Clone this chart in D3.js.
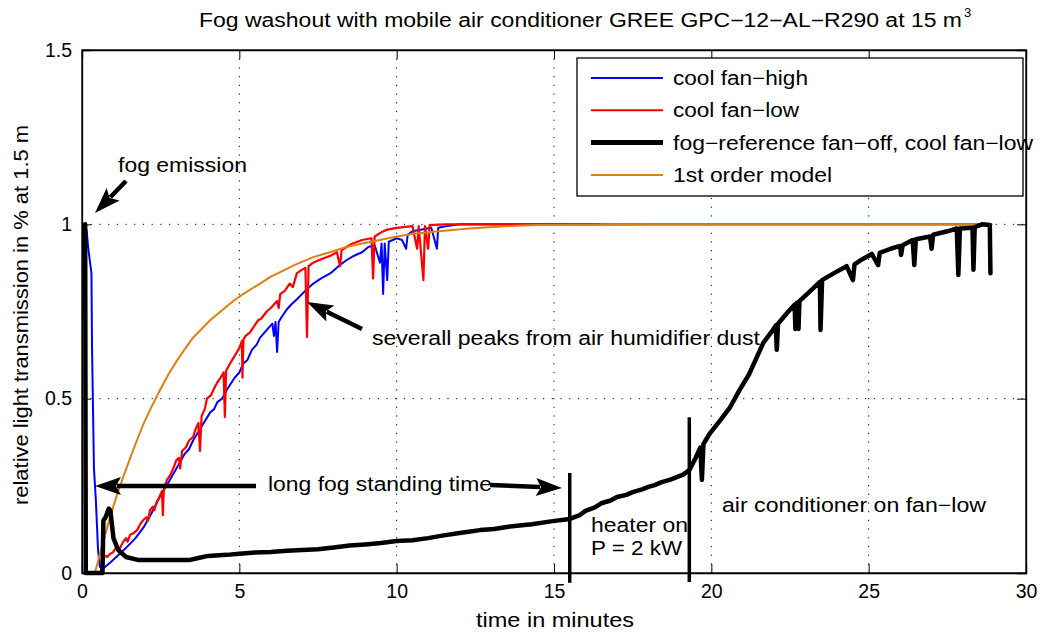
<!DOCTYPE html>
<html><head><meta charset="utf-8">
<script src="https://cdn.jsdelivr.net/npm/d3@7"></script>
<style>
body{margin:0;background:#fff;}
text{font-family:"Liberation Sans",Arial,sans-serif;fill:#000;}
</style></head>
<body><svg id="c" width="1046" height="633"></svg>
<script>
// ---------- data ----------
const xTicks = [0,5,10,15,20,25,30];
const yTicks = [0,0.5,1,1.5];
const yTickLabels = ["0","0.5","1","1.5"];
const seriesNames = ["cool fan\u2212high","cool fan\u2212low","fog\u2212reference fan\u2212off, cool fan\u2212low","1st order model"];
const seriesColors = ["#0000ff","#ff0000","#000000","#e07f10"];

const coolHigh = [[0.1,1.0],[0.15,0.98],[0.2,0.93],[0.3,0.86],[0.32,0.64],[0.38,0.3],[0.44,0.21],[0.51,0.066],[0.57,0.017],[0.7,0.015],[0.9,0.03],[1.2,0.055],[1.43,0.075],[1.7,0.1],[1.95,0.13],[2.2,0.17],[2.48,0.22],[2.75,0.26],[3.0,0.30],[3.25,0.34],[3.4,0.355],[3.53,0.38],[3.8,0.42],[4.07,0.46],[4.2,0.47],[4.3,0.49],[4.45,0.50],[4.6,0.525],[4.85,0.56],[5.0,0.575],[5.12,0.6],[5.25,0.61],[5.4,0.64],[5.55,0.655],[5.66,0.675],[5.9,0.70],[6.05,0.715],[6.1,0.68],[6.15,0.72],[6.2,0.634],[6.25,0.72],[6.35,0.735],[6.5,0.755],[6.65,0.77],[6.83,0.785],[7.1,0.81],[7.35,0.83],[7.6,0.845],[7.9,0.86],[8.15,0.88],[8.4,0.897],[8.65,0.91],[8.9,0.92],[9.1,0.935],[9.3,0.94],[9.47,0.89],[9.52,0.945],[9.57,0.80],[9.62,0.945],[9.7,0.84],[9.75,0.95],[10.0,0.96],[10.17,0.955],[10.3,0.93],[10.35,0.97],[10.5,0.98],[10.8,0.985],[11.1,0.99],[11.28,0.93],[11.32,0.99],[11.6,0.995],[12.0,1.0],[16.45,1.0]];

const coolLow = [[0.1,1.0],[0.12,0.0],[0.6,0.0],[0.65,0.03],[0.72,0.05],[0.8,0.046],[0.9,0.055],[0.99,0.06],[1.1,0.075],[1.2,0.07],[1.31,0.09],[1.4,0.1],[1.45,0.09],[1.53,0.11],[1.65,0.115],[1.75,0.123],[1.85,0.14],[1.95,0.152],[2.05,0.16],[2.1,0.15],[2.16,0.18],[2.25,0.19],[2.3,0.18],[2.38,0.205],[2.45,0.215],[2.54,0.235],[2.57,0.166],[2.6,0.24],[2.7,0.267],[2.8,0.28],[2.9,0.3],[3.0,0.324],[3.08,0.33],[3.12,0.3],[3.18,0.35],[3.3,0.36],[3.4,0.38],[3.53,0.39],[3.6,0.41],[3.7,0.43],[3.75,0.35],[3.8,0.45],[3.9,0.47],[3.97,0.5],[4.1,0.51],[4.2,0.53],[4.29,0.545],[4.4,0.56],[4.5,0.575],[4.54,0.447],[4.58,0.58],[4.7,0.6],[4.8,0.615],[4.9,0.63],[5.0,0.645],[5.08,0.665],[5.1,0.56],[5.13,0.67],[5.2,0.68],[5.34,0.69],[5.45,0.705],[5.6,0.725],[5.7,0.73],[5.87,0.75],[6.0,0.76],[6.2,0.78],[6.25,0.76],[6.3,0.8],[6.45,0.81],[6.6,0.83],[6.7,0.82],[6.83,0.86],[7.0,0.87],[7.1,0.875],[7.15,0.677],[7.2,0.88],[7.35,0.89],[7.6,0.9],[7.9,0.91],[8.1,0.92],[8.2,0.88],[8.25,0.925],[8.4,0.935],[8.6,0.945],[8.9,0.955],[9.2,0.96],[9.25,0.845],[9.3,0.965],[9.47,0.975],[9.7,0.985],[10.0,0.99],[10.5,0.995],[10.65,0.93],[10.7,0.995],[10.85,0.84],[10.9,0.995],[11.0,0.93],[11.05,0.998],[11.5,1.0],[28.9,1.0]];

const fogRef = [[0.1,1.0],[0.12,0.0],[0.65,0.0],[0.68,0.15],[0.75,0.16],[0.85,0.185],[0.9,0.18],[1.0,0.1],[1.15,0.066],[1.4,0.046],[1.8,0.037],[3.4,0.037],[3.7,0.043],[4.0,0.049],[4.6,0.052],[5.0,0.055],[5.5,0.059],[6.0,0.06],[6.5,0.064],[7.0,0.066],[7.5,0.068],[8.0,0.073],[8.5,0.079],[9.0,0.082],[9.5,0.086],[10.0,0.092],[10.5,0.094],[11.0,0.1],[11.5,0.108],[12.0,0.115],[12.65,0.123],[13.1,0.126],[13.5,0.132],[13.9,0.136],[14.3,0.14],[14.9,0.148],[15.5,0.155],[15.8,0.165],[16.0,0.178],[16.3,0.188],[16.5,0.2],[16.8,0.208],[17.0,0.218],[17.3,0.224],[17.5,0.232],[17.8,0.24],[18.0,0.247],[18.2,0.252],[18.4,0.26],[18.7,0.268],[18.9,0.275],[19.1,0.282],[19.3,0.295],[19.5,0.33],[19.65,0.36],[19.7,0.267],[19.75,0.37],[19.95,0.4],[20.3,0.44],[20.6,0.476],[20.9,0.525],[21.2,0.57],[21.45,0.62],[21.65,0.66],[21.9,0.69],[22.05,0.71],[22.08,0.64],[22.12,0.715],[22.4,0.745],[22.65,0.77],[22.67,0.70],[22.72,0.775],[22.77,0.70],[22.8,0.78],[23.1,0.805],[23.45,0.835],[23.47,0.697],[23.52,0.84],[23.9,0.86],[24.3,0.88],[24.5,0.84],[24.55,0.885],[24.8,0.9],[25.1,0.915],[25.3,0.883],[25.35,0.918],[25.7,0.93],[26.0,0.938],[26.03,0.912],[26.08,0.94],[26.4,0.955],[26.45,0.883],[26.5,0.957],[26.95,0.965],[27.0,0.93],[27.05,0.97],[27.5,0.98],[27.8,0.988],[27.85,0.855],[27.9,0.988],[28.3,0.99],[28.33,0.87],[28.37,0.992],[28.6,1.0],[28.85,0.998],[28.87,0.86]];

const model = [[0.41,0],[0.6,0.065],[0.89,0.16],[1.15,0.235],[1.43,0.305],[1.7,0.37],[1.94,0.425],[2.2,0.475],[2.48,0.525],[2.75,0.57],[3.0,0.607],[3.25,0.64],[3.53,0.675],[3.8,0.70],[4.07,0.725],[4.35,0.746],[4.6,0.765],[4.85,0.783],[5.12,0.80],[5.4,0.816],[5.66,0.83],[6.0,0.85],[6.3,0.863],[6.8,0.885],[7.35,0.906],[7.88,0.92],[8.4,0.935],[8.9,0.945],[9.47,0.955],[10.0,0.965],[10.5,0.972],[11.0,0.977],[11.6,0.982],[12.3,0.988],[13.06,0.992],[13.8,0.996],[14.46,0.998],[16.0,0.999],[18.0,1.0],[28.9,1.0]];

// annotation markers (data units)
const eventLines = [[15.5,-0.028,0.287],[19.3,-0.026,0.447]];

// ---------- chart ----------
const svg = d3.select("#c");
const L=82,R=1026,T=50,B=573;
const x = d3.scaleLinear().domain([0,30]).range([L,R]);
const y = d3.scaleLinear().domain([0,1.5]).range([B,T]);

// grid
const g = svg.append("g");
xTicks.slice(1,-1).forEach(t=>{
  g.append("line").attr("x1",x(t)).attr("x2",x(t)).attr("y1",T).attr("y2",B)
   .attr("stroke","#000").attr("stroke-width",1).attr("stroke-dasharray","1.2,7.5");
});
yTicks.slice(1,-1).forEach(t=>{
  g.append("line").attr("x1",L).attr("x2",R).attr("y1",y(t)).attr("y2",y(t))
   .attr("stroke","#000").attr("stroke-width",1).attr("stroke-dasharray","1.2,7.5");
});

// axes
const xAxis = svg.append("g").attr("transform",`translate(0,${B})`)
  .call(d3.axisBottom(x).tickValues(xTicks).tickSize(-9).tickPadding(11).tickFormat(d3.format("d")));
const xAxisTop = svg.append("g").attr("transform",`translate(0,${T})`)
  .call(d3.axisTop(x).tickValues(xTicks).tickSize(-9).tickFormat(""));
const yAxis = svg.append("g").attr("transform",`translate(${L},0)`)
  .call(d3.axisLeft(y).tickValues(yTicks).tickSize(-9).tickPadding(10).tickFormat((d,i)=>yTickLabels[i]));
const yAxisR = svg.append("g").attr("transform",`translate(${R},0)`)
  .call(d3.axisRight(y).tickValues(yTicks).tickSize(-9).tickFormat(""));
[xAxis,xAxisTop,yAxis,yAxisR].forEach(a=>{
  a.select(".domain").attr("stroke","#000").attr("stroke-width",1.3);
  a.selectAll(".tick line").attr("stroke","#000").attr("stroke-width",1);
  a.selectAll("text").style("font-family","Liberation Sans, Arial, sans-serif").style("font-size","19.5px").attr("fill","#000");
});
xAxis.selectAll(".tick text").attr("dy","0.71em");
svg.append("rect").attr("x",L).attr("y",T).attr("width",R-L).attr("height",B-T)
  .attr("fill","none").attr("stroke","#000").attr("stroke-width",1.3);

// lines
const line = d3.line().x(d=>x(d[0])).y(d=>y(d[1]));
const drawOrder = [[coolHigh,0,2],[coolLow,1,2.2],[model,3,2],[fogRef,2,4.5]];
drawOrder.forEach(([data,ci,w])=>{
  svg.append("path").datum(data).attr("d",line).attr("fill","none")
    .attr("stroke",seriesColors[ci]).attr("stroke-width",w)
    .attr("stroke-linejoin","round").attr("stroke-linecap","round");
});

// event lines
eventLines.forEach(([t,a,b])=>{
  svg.append("line").attr("x1",x(t)).attr("x2",x(t)).attr("y1",y(a)).attr("y2",y(b))
    .attr("stroke","#000").attr("stroke-width",3.5);
});

// arrows (pixel annotations)
function arrow(x1,y1,x2,y2){
  const ang=Math.atan2(y2-y1,x2-x1), len=26, hw=9;
  const bx=x2-len*Math.cos(ang), by=y2-len*Math.sin(ang);
  svg.append("line").attr("x1",x1).attr("y1",y1).attr("x2",bx+4*Math.cos(ang)).attr("y2",by+4*Math.sin(ang))
    .attr("stroke","#000").attr("stroke-width",4.5);
  const p=[[x2,y2],[bx-hw*Math.sin(ang),by+hw*Math.cos(ang)],[bx+5*Math.cos(ang),by+5*Math.sin(ang)],[bx+hw*Math.sin(ang),by-hw*Math.cos(ang)]];
  svg.append("polygon").attr("points",p.map(q=>q.join(",")).join(" ")).attr("fill","#000");
}
arrow(126,181,95,213);
arrow(256,486,95,486);
arrow(490,485,562,488);
arrow(362,329,307,302);

// text helper: fixed width (reference text is horizontally wide)
function txt(s,tx,ty,size,w,anchor){
  const t=svg.append("text").attr("x",tx).attr("y",ty).style("font-size",size+"px").text(s);
  if(w) t.attr("textLength",w).attr("lengthAdjust","spacingAndGlyphs");
  if(anchor) t.attr("text-anchor",anchor);
  return t;
}

// annotation text
txt("fog emission",118,172,20,129);
txt("severall peaks from air humidifier dust",372,345,20,388);
txt("long fog standing time",268,491,20,224);
txt("heater on",591,532,20,97);
txt("P = 2 kW",591,555,20,91);
txt("air conditioner on fan\u2212low",722,512,20,264);

// title
txt("Fog washout with mobile air conditioner GREE GPC\u221212\u2212AL\u2212R290 at 15 m",199,27,19.5,763);
txt("3",964,17,13,null);

// axis labels
txt("time in minutes",476,627,19.5,158);
svg.append("text").attr("transform",`translate(28,${315}) rotate(-90)`).attr("text-anchor","middle")
  .style("font-size","19.5px").attr("textLength",380).attr("lengthAdjust","spacingAndGlyphs")
  .text("relative light transmission in % at 1.5 m");

// legend
const lg = svg.append("g");
lg.append("rect").attr("x",577).attr("y",58).attr("width",446).attr("height",138).attr("fill","#fff").attr("stroke","#000").attr("stroke-width",1.3);
const legW=[2,2,5,2];
const legTW=[135,126,360,159];
seriesNames.forEach((n,i)=>{
  const yy=78+i*32.3;
  lg.append("line").attr("x1",591).attr("x2",663).attr("y1",yy).attr("y2",yy).attr("stroke",seriesColors[i]).attr("stroke-width",legW[i]);
  lg.append("text").attr("x",673).attr("y",yy+7).style("font-size","20px")
    .attr("textLength",legTW[i]).attr("lengthAdjust","spacingAndGlyphs").text(n);
});
</script></body></html>
